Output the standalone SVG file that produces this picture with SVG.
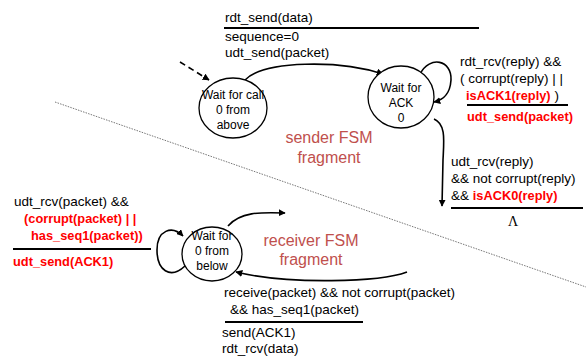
<svg xmlns="http://www.w3.org/2000/svg" width="586" height="358" viewBox="0 0 586 358">
  <defs>
    <marker id="arrow" viewBox="0 0 10 10" refX="9" refY="5" markerWidth="7" markerHeight="7" markerUnits="userSpaceOnUse" orient="auto">
      <path d="M0,0 L10,5 L0,10 z" fill="#000"/>
    </marker>
    <style>
      text { font-family: "Liberation Sans", Arial, sans-serif; fill: #000; }
      .lbl { font-size: 13.5px; }
      .red { font-size: 12.8px; font-weight: bold; fill: #ff0000; }
      .state { font-size: 12px; text-anchor: middle; }
      .frag { font-size: 16px; fill: #c0504d; text-anchor: middle; }
      .node { fill: #fff; stroke: #000; stroke-width: 1.3; }
      .edge { fill: none; stroke: #000; stroke-width: 1.6; marker-end: url(#arrow); }
      .bar { stroke: #000; stroke-width: 2; }
    </style>
  </defs>

  <rect width="586" height="358" fill="#fff"/>

  <!-- divider between sender and receiver halves -->
  <line x1="55" y1="102" x2="586" y2="287" stroke="#777" stroke-width="1" stroke-dasharray="1.5,1.2"/>

  <!-- connectors -->
  <g id="connectors">
    <path class="edge" d="M180 62 L209 80" stroke-dasharray="6,4"/>
    <path class="edge" d="M245 80 C265 60 340 60 383 74"/>
    <path class="edge" d="M420 74 C430 55 452 60 451 80 C450 95 443 100 434 102"/>
    <path class="edge" d="M434 119 C446 124 444 140 443 160 L442 206"/>
    <path class="edge" d="M185 266 C170 280 157 270 157 250 C157 230 172 225 183 236"/>
    <path class="edge" d="M228 226 C240 212 260 212 285 213"/>
    <path class="edge" d="M407 272 C380 282 290 285 236 272"/>
  </g>

  <!-- sender states -->
  <g id="wait-call-0">
    <ellipse class="node" cx="233" cy="108" rx="34" ry="30"/>
    <text class="state" x="233" y="99">Wait for call</text>
    <text class="state" x="233" y="114">0 from</text>
    <text class="state" x="233" y="129">above</text>
  </g>
  <g id="wait-ack-0">
    <ellipse class="node" cx="401" cy="97" rx="33" ry="31"/>
    <text class="state" x="401" y="92">Wait for</text>
    <text class="state" x="401" y="107">ACK</text>
    <text class="state" x="401" y="122">0</text>
  </g>

  <!-- receiver state -->
  <g id="wait-0-below">
    <ellipse class="node" cx="212" cy="254" rx="30" ry="27"/>
    <text class="state" x="212" y="240">Wait for</text>
    <text class="state" x="212" y="255">0 from</text>
    <text class="state" x="212" y="270">below</text>
  </g>

  <!-- fragment captions -->
  <g id="captions">
    <text class="frag" x="329" y="143">sender FSM</text>
    <text class="frag" x="329" y="163">fragment</text>
    <text class="frag" x="311" y="246">receiver FSM</text>
    <text class="frag" x="311" y="265">fragment</text>
  </g>

  <!-- transition labels -->
  <g id="label-send">
    <text class="lbl" x="225" y="22">rdt_send(data)</text>
    <line class="bar" x1="224" y1="28" x2="479" y2="28"/>
    <text class="lbl" x="225" y="41">sequence=0</text>
    <text class="lbl" x="225" y="57">udt_send(packet)</text>
  </g>
  <g id="label-resend">
    <text class="lbl" x="460" y="66">rdt_rcv(reply) &amp;&amp;</text>
    <text class="lbl" x="460" y="83">( corrupt(reply) | |</text>
    <text class="lbl" x="466" y="100"><tspan class="red">isACK1(reply)</tspan> )</text>
    <line class="bar" x1="467" y1="105" x2="568" y2="105"/>
    <text class="red" x="467" y="121">udt_send(packet)</text>
  </g>
  <g id="label-ack0">
    <text class="lbl" x="451" y="166">udt_rcv(reply)</text>
    <text class="lbl" x="451" y="183">&amp;&amp; not corrupt(reply)</text>
    <text class="lbl" x="451" y="200">&amp;&amp; <tspan class="red">isACK0(reply)</tspan></text>
    <line class="bar" x1="451" y1="208" x2="583" y2="208"/>
    <text x="508" y="226" style="font-family:'Liberation Serif','Times New Roman',serif;font-size:14px">Λ</text>
  </g>
  <g id="label-nak">
    <text class="lbl" x="14" y="206">udt_rcv(packet) &amp;&amp;</text>
    <text class="red" x="24" y="223">(corrupt(packet) | |</text>
    <text class="red" x="31" y="240">has_seq1(packet))</text>
    <line class="bar" x1="13" y1="249" x2="151" y2="249"/>
    <text class="red" x="13" y="266">udt_send(ACK1)</text>
  </g>
  <g id="label-dup">
    <text class="lbl" x="224" y="297">receive(packet) &amp;&amp; not corrupt(packet)</text>
    <text class="lbl" x="230" y="314">&amp;&amp; has_seq1(packet)</text>
    <line class="bar" x1="225" y1="322" x2="363" y2="322"/>
    <text class="lbl" x="222" y="337">send(ACK1)</text>
    <text class="lbl" x="222" y="353">rdt_rcv(data)</text>
  </g>
</svg>
